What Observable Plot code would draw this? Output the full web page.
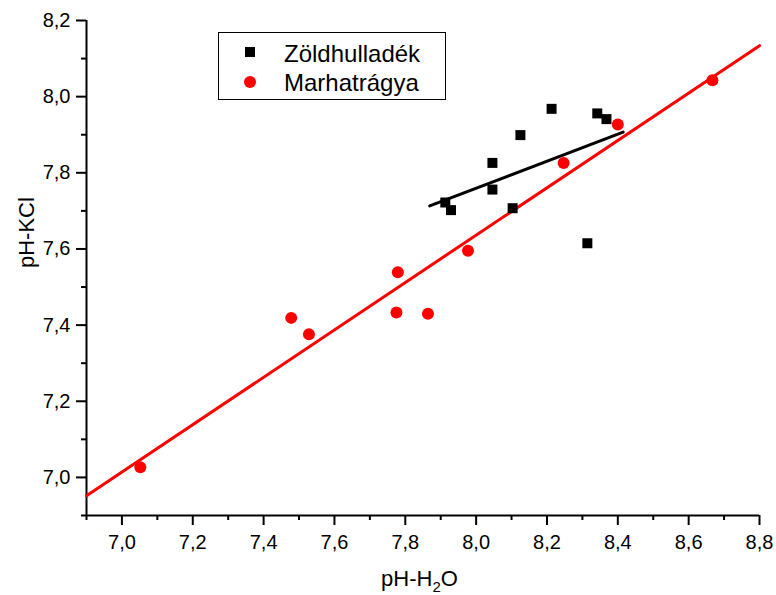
<!DOCTYPE html>
<html>
<head>
<meta charset="utf-8">
<script src="https://cdn.jsdelivr.net/npm/d3@7"></script>
<script src="https://cdn.jsdelivr.net/npm/@observablehq/plot@0.6"></script>
<style>
  body { margin: 0; background: #fff; }
  #wrap { position: relative; width: 776px; height: 595px; font-family: "Liberation Sans", Arial, sans-serif; }
  #legend { position: absolute; left: 218px; top: 32px; width: 228px; height: 68px; box-sizing: border-box;
            border: 1px solid #000; background: #fff; }
  .lg-text { position: absolute; left: 65px; font-size: 24px; line-height: 24px; color: #000; white-space: nowrap; }
  .lg-sq { position: absolute; left: 26px; top: 14px; width: 10px; height: 10px; background: #000; }
  .lg-ci { position: absolute; left: 25px; top: 43px; width: 12px; height: 12px; border-radius: 50%; background: #ff0000; }
</style>
</head>
<body>
<div id="wrap"></div>
<script>
// ---- data ----
const zoldX = [7.913, 7.929, 8.046, 8.046, 8.103, 8.125, 8.213, 8.342, 8.368, 8.314];
const zoldY = [7.722, 7.702, 7.826, 7.756, 7.707, 7.899, 7.968, 7.956, 7.941, 7.615];
const marhaX = [7.052, 7.478, 7.528, 7.779, 7.775, 7.864, 7.977, 8.247, 8.400, 8.667];
const marhaY = [7.027, 7.419, 7.376, 7.539, 7.433, 7.430, 7.595, 7.826, 7.927, 8.043];
const zoldFitX = [7.869, 8.415];
const zoldFitY = [7.713, 7.907];
const marhaFitX = [6.9, 8.8];
const marhaFitY = [6.952, 8.134];
const xDomain = [6.9, 8.8];
const yDomain = [6.9, 8.2];
const xTicks = [7.0, 7.2, 7.4, 7.6, 7.8, 8.0, 8.2, 8.4, 8.6, 8.8];
const xMinor = [6.9, 7.1, 7.3, 7.5, 7.7, 7.9, 8.1, 8.3, 8.5, 8.7];
const yTicks = [7.0, 7.2, 7.4, 7.6, 7.8, 8.0, 8.2];
const yMinor = [6.9, 7.1, 7.3, 7.5, 7.7, 7.9, 8.1];
const seriesNames = ["Zöldhulladék", "Marhatrágya"];
const xTitle = ["pH-H", "2", "O"];
const yTitle = "pH-KCl";

const zold = zoldX.map((x, i) => ({x, y: zoldY[i]}));
const marha = marhaX.map((x, i) => ({x, y: marhaY[i]}));
const zoldFit = zoldFitX.map((x, i) => ({x, y: zoldFitY[i]}));
const marhaFit = marhaFitX.map((x, i) => ({x, y: marhaFitY[i]}));
const fmt = d => d3.format(".1f")(d).replace(".", ",");

const W = 776, H = 595, mL = 86, mR = 17, mT = 20, mB = 80;

const chart = Plot.plot({
  width: W, height: H,
  marginLeft: mL, marginRight: mR, marginTop: mT, marginBottom: mB,
  style: {fontFamily: '"Liberation Sans", Arial, sans-serif', fontSize: "20px", color: "#000", background: "#fff", overflow: "visible"},
  x: {domain: xDomain, axis: null},
  y: {domain: yDomain, axis: null},
  marks: [
    Plot.axisX(xTicks, {anchor: "bottom", tickSize: 10, strokeWidth: 2, fill: "none", label: null}),
    Plot.axisX(xMinor, {anchor: "bottom", tickSize: 5, strokeWidth: 2, fill: "none", label: null}),
    Plot.axisX(xTicks, {anchor: "bottom", tickSize: 10, tickPadding: 9, stroke: "none", tickFormat: fmt, fontSize: 20, label: null}),
    Plot.axisY(yTicks, {anchor: "left", tickSize: 10, strokeWidth: 2, fill: "none", label: null}),
    Plot.axisY(yMinor, {anchor: "left", tickSize: 5, strokeWidth: 2, fill: "none", label: null}),
    Plot.axisY(yTicks, {anchor: "left", tickSize: 10, tickPadding: 6, stroke: "none", tickFormat: fmt, fontSize: 20, label: null}),
    Plot.ruleX([xDomain[0]], {stroke: "#000", strokeWidth: 2}),
    Plot.ruleY([yDomain[0]], {stroke: "#000", strokeWidth: 2}),
    Plot.line(marhaFit, {x: "x", y: "y", stroke: "#ff0000", strokeWidth: 3}),
    Plot.line(zoldFit, {x: "x", y: "y", stroke: "#000", strokeWidth: 3}),
    Plot.dot(zold, {x: "x", y: "y", symbol: "square", r: 5.64, fill: "#000", stroke: "none"}),
    Plot.dot(marha, {x: "x", y: "y", symbol: "circle", r: 6, fill: "#ff0000", stroke: "none"}),
    Plot.text([yTitle], {frameAnchor: "left", rotate: -90, dx: -60, fontSize: 22, fill: "#000"})
  ]
});

// x-axis title with subscript
const svg = d3.select(chart);
const t = svg.append("text")
  .attr("x", (mL + (W - mR)) / 2 - 3)
  .attr("y", 586)
  .attr("text-anchor", "middle")
  .attr("font-size", 22)
  .attr("fill", "#000");
t.append("tspan").text(xTitle[0]);
t.append("tspan").attr("font-size", 15).attr("dy", 6).text(xTitle[1]);
t.append("tspan").attr("dy", -6).text(xTitle[2]);

const wrap = document.getElementById("wrap");
wrap.appendChild(chart);

// legend
const lg = document.createElement("div");
lg.id = "legend";
lg.innerHTML = `<div class="lg-sq"></div><div class="lg-text" style="top:9px">${seriesNames[0]}</div>
<div class="lg-ci"></div><div class="lg-text" style="top:38px">${seriesNames[1]}</div>`;
wrap.appendChild(lg);
</script>
</body>
</html>
